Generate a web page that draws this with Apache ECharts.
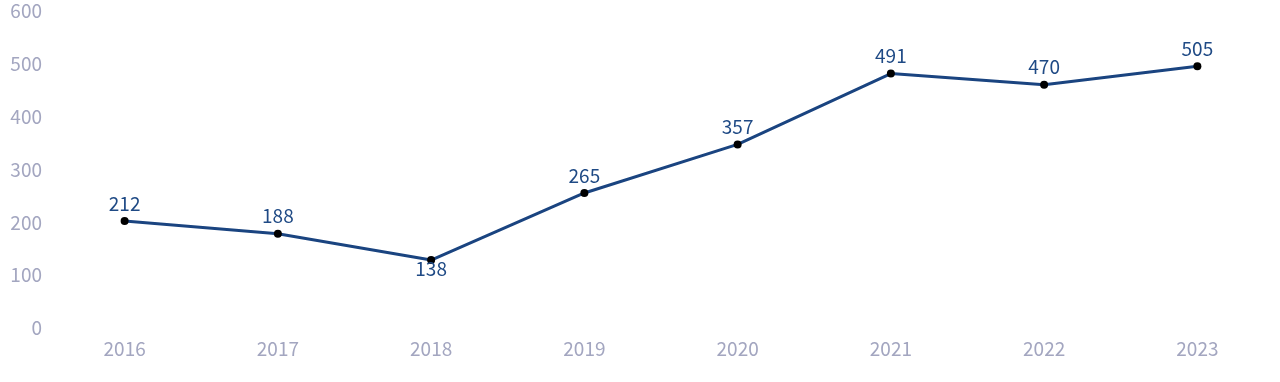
<!DOCTYPE html>
<html><head><meta charset="utf-8">
<script src="https://cdn.jsdelivr.net/npm/echarts@6/dist/echarts.min.js"></script>
<style>html,body{margin:0;padding:0;background:#fff}#c{width:1280px;height:382px}</style>
</head><body><div id="c"></div>
<script>
const categories = ['2016','2017','2018','2019','2020','2021','2022','2023'];
const values = [212,188,138,265,357,491,470,505];
const belowIdx = [2];
const FONT = '"Noto Sans CJK SC", "Noto Sans", sans-serif';
const chart = echarts.init(document.getElementById('c'));
chart.setOption({
  animation:false,
  grid:{left:48,right:6,top:16,bottom:49,containLabel:false},
  xAxis:{type:'category',data:categories,boundaryGap:true,
    axisLine:{show:false},axisTick:{show:false},splitLine:{show:false},
    axisLabel:{color:'#a3a6c0',fontSize:19,fontFamily:FONT,margin:6}},
  yAxis:{type:'value',min:0,max:600,interval:100,
    axisLine:{show:false},axisTick:{show:false},splitLine:{show:false},
    axisLabel:{color:'#a3a6c0',fontSize:19,fontFamily:FONT,margin:6,verticalAlign:'bottom',lineHeight:10}},
  series:[{type:'line',
    data:values.map((v,i)=>({value:v,label:belowIdx.includes(i)?{position:'bottom',distance:-5}:{position:'top'}})),
    lineStyle:{color:'#1a4480',width:3},
    itemStyle:{color:'#000'},symbol:'circle',symbolSize:8,
    label:{show:true,color:'#1f4a85',fontSize:19,fontFamily:FONT,distance:4}}]
});
</script></body></html>
